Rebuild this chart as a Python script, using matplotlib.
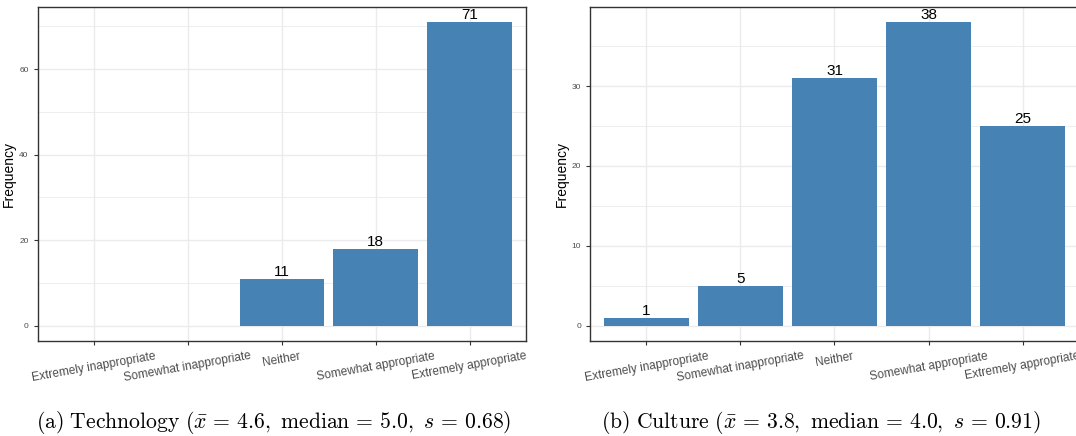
#!/usr/bin/env python3

import matplotlib.pyplot as plt
import numpy as np

# Likert categories shared by both panels
categories = ["Extremely inappropriate", "Somewhat inappropriate", "Neither",
              "Somewhat appropriate", "Extremely appropriate"]

tech_counts = [0, 0, 11, 18, 71]
culture_counts = [1, 5, 31, 38, 25]

tech_caption = r"$\mathrm{(a)\ Technology\ (}\bar{x}\,=\,4.6,\ \mathrm{median}\,=\,5.0,\ s\,=\,0.68\mathrm{)}$"
culture_caption = r"$\mathrm{(b)\ Culture\ (}\bar{x}\,=\,3.8,\ \mathrm{median}\,=\,4.0,\ s\,=\,0.91\mathrm{)}$"

BAR_COLOR = "#4682B4"
GRID_COLOR = "#EBEBEB"
AXIS_TEXT = "#4D4D4D"

plt.rcParams["mathtext.fontset"] = "cm"
plt.rcParams["font.family"] = ["Liberation Sans", "DejaVu Sans"]


def plot_panel(ax, counts, major_step):
    '''
    Draw one ggplot-like bar panel
    '''
    x = np.arange(len(categories))
    ax.bar(x, counts, width=0.9, color=BAR_COLOR, zorder=2)

    for xi, c in zip(x, counts):
        if c > 0:
            ax.text(xi, c, str(c), ha="center", va="bottom",
                    fontsize=11, color="black", zorder=3)

    top = max(counts)
    ax.set_xlim(-0.6, len(categories) - 0.4)
    ax.set_ylim(-0.05 * top, top * 1.05)

    ax.set_xticks(x)
    ax.set_xticklabels(categories, rotation=10, fontsize=8.6, color=AXIS_TEXT)
    ax.set_yticks(np.arange(0, top + 1, major_step))
    ax.set_yticks(np.arange(major_step / 2, top + 1, major_step), minor=True)
    ax.tick_params(axis="y", labelsize=6, labelcolor=AXIS_TEXT)
    ax.tick_params(which="major", length=3, width=0.8, color="#333333")
    ax.tick_params(which="minor", length=0)

    ax.grid(which="major", color=GRID_COLOR, linewidth=1.0, zorder=0)
    ax.grid(which="minor", axis="y", color=GRID_COLOR, linewidth=0.6, zorder=0)
    ax.set_axisbelow(True)

    for spine in ax.spines.values():
        spine.set_color("#333333")
        spine.set_linewidth(1.0)

    ax.set_ylabel("Frequency", fontsize=10, labelpad=2)


def main():
    fig = plt.figure(figsize=(10.76, 4.36), dpi=100)

    ax1 = fig.add_axes([0.0349, 0.218, 0.454, 0.766])
    ax2 = fig.add_axes([0.5483, 0.218, 0.4545, 0.766])

    plot_panel(ax1, tech_counts, 20)
    plot_panel(ax2, culture_counts, 10)

    fig.text(0.254, 0.032, tech_caption, ha="center", va="center", fontsize=15.6)
    fig.text(0.763, 0.032, culture_caption, ha="center", va="center", fontsize=15.6)

    fig.savefig("out.png", dpi=100)


if __name__ == '__main__':
    main()
